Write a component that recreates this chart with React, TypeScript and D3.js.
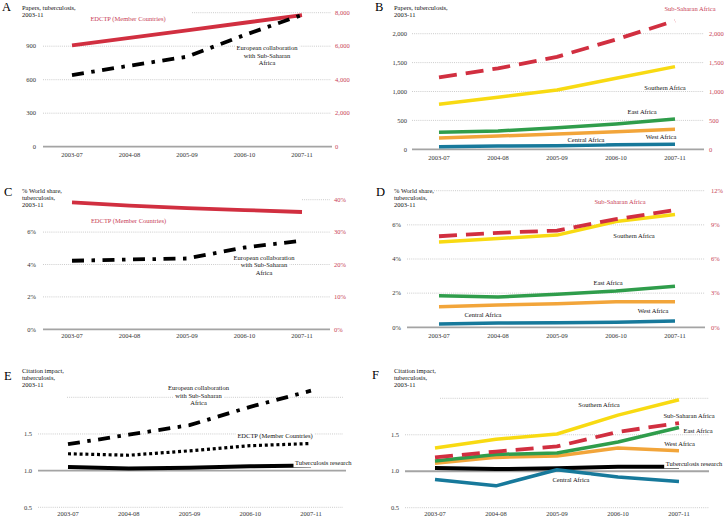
import React, { useEffect, useRef } from 'react';
import * as d3 from 'd3';

// ---------- DATA ----------
const periods = ['2003-07', '2004-08', '2005-09', '2006-10', '2007-11'];

// Panel A: papers
const papersEdctp = [6050, 6500, 6950, 7400, 7850];
const papersEuroSsa = [642, 725, 806, 1000, 1180];
const papersLeftTicks = [0, 300, 600, 900, 1200];
const papersLeftLabels = [0, 300, 600, 900];
const papersRightTicks = [0, 2000, 4000, 6000, 8000];

// Panel B: papers by region
const papersSsa = [1245, 1400, 1600, 1900, 2225];
const papersSouthern = [778, 900, 1025, 1228, 1430];
const papersEast = [294, 317, 374, 438, 524];
const papersWest = [196, 230, 265, 305, 346];
const papersCentral = [45, 55, 62, 78, 86];
const papersRegionTicks = [0, 500, 1000, 1500, 2000];

// Panel C: world share
const shareEdctp = [39.2, 38.2, 37.4, 36.8, 36.2];
const shareEuroSsa = [4.23, 4.31, 4.37, 5.05, 5.47];
const shareLeftTicks = [0, 2, 4, 6, 8];
const shareLeftLabels = [0, 2, 4, 6];
const shareRightTicksC = [0, 10, 20, 30, 40];

// Panel D: world share by region
const shareSsa = [8.0, 8.3, 8.5, 9.5, 10.3];
const shareSouthern = [5.0, 5.2, 5.4, 6.2, 6.6];
const shareEast = [1.85, 1.77, 1.93, 2.12, 2.41];
const shareWest = [1.21, 1.3, 1.38, 1.5, 1.5];
const shareCentral = [0.19, 0.25, 0.27, 0.3, 0.37];
const shareRightTicksD = [0, 3, 6, 9, 12];

// Panel E: citation impact
const citeEuroSsa = [1.36, 1.49, 1.62, 1.87, 2.09];
const citeEdctp = [1.23, 1.21, 1.27, 1.34, 1.37];
const citeTbE = [1.05, 1.03, 1.04, 1.06, 1.07];
const citeTicks = [0.5, 1.0, 1.5, 2.0];
const citeLabels = [0.5, 1.0, 1.5];

// Panel F: citation impact by region
const citeSouthern = [1.32, 1.44, 1.51, 1.77, 1.98];
const citeSsa = [1.19, 1.27, 1.34, 1.54, 1.66];
const citeEast = [1.14, 1.23, 1.25, 1.4, 1.6];
const citeWest = [1.11, 1.19, 1.21, 1.32, 1.28];
const citeCentral = [0.886, 0.8, 1.02, 0.92, 0.86];
const citeTbF = [1.045, 1.03, 1.04, 1.06, 1.06];

// ---------- STYLE ----------
const RED = '#d12f40';
const RED_TEXT = '#c83e56';
const YELLOW = '#f8da12';
const GREEN = '#2f9d4b';
const ORANGE = '#f2a53a';
const BLUE = '#17799b';
const BLACK = '#000000';
const FONT = '"Liberation Serif", "Times New Roman", Times, serif';
const DASHDOT = '12,7.5,3.5,7.5';
const DASHED = '18,9';
const DOTTED = '3,2.8';

interface SeriesDef {
  values: number[];
  color: string;
  width: number;
  dash?: string;
  axis?: 'right';
}
interface LabelDef {
  lines: string[];
  x: number;
  y: number;
  color?: string;
  padBottom?: number;
}
interface PanelDef {
  letter: string;
  letterPos: [number, number];
  title: string[];
  titlePos: [number, number];
  pointRange: [number, number];
  gridRange: [number, number];
  baseRange: [number, number];
  topGridStart: number;
  yRange: [number, number];
  leftDomain: [number, number];
  gridTicks: number[];
  leftLabels: number[];
  leftFmt: (v: number) => string;
  leftLabelX: number;
  rightDomain?: [number, number];
  rightTicks?: number[];
  rightFmt?: (v: number) => string;
  rightLabelX?: number;
  baseValue: number;
  xLabelY: number;
  series: SeriesDef[];
  labels: LabelDef[];
}

const comma = d3.format(',');
const pct = (v: number) => `${v}%`;
const dec1 = d3.format('.1f');

const panels: PanelDef[] = [
  {
    letter: 'A', letterPos: [2, 11], title: ['Papers, tuberculosis,', '2003-11'], titlePos: [22, 10],
    pointRange: [72, 302], gridRange: [43, 331], baseRange: [43, 332], topGridStart: 192,
    yRange: [146.7, 12.7], leftDomain: [0, 1200], gridTicks: papersLeftTicks, leftLabels: papersLeftLabels,
    leftFmt: comma, leftLabelX: 36, rightDomain: [0, 8000], rightTicks: papersRightTicks, rightFmt: comma,
    rightLabelX: 335, baseValue: 0, xLabelY: 157,
    series: [
      { values: papersEdctp, color: RED, width: 3.8, axis: 'right' },
      { values: papersEuroSsa, color: BLACK, width: 3.8, dash: DASHDOT },
    ],
    labels: [
      { lines: ['EDCTP (Member Countries)'], x: 128, y: 20.5, color: RED_TEXT },
      { lines: ['European collaboration', 'with Sub-Saharan', 'Africa'], x: 267, y: 50.3 },
    ],
  },
  {
    letter: 'B', letterPos: [375, 11], title: ['Papers, tuberculosis,', '2003-11'], titlePos: [394, 10],
    pointRange: [439, 675], gridRange: [412, 704], baseRange: [412, 704], topGridStart: 412,
    yRange: [149.3, 33.7], leftDomain: [0, 2000], gridTicks: papersRegionTicks, leftLabels: papersRegionTicks,
    leftFmt: comma, leftLabelX: 407, rightDomain: [0, 2000], rightTicks: papersRegionTicks, rightFmt: comma,
    rightLabelX: 709, baseValue: 0, xLabelY: 159.5,
    series: [
      { values: papersCentral, color: BLUE, width: 3.5 },
      { values: papersWest, color: ORANGE, width: 3.5 },
      { values: papersEast, color: GREEN, width: 3.5 },
      { values: papersSouthern, color: YELLOW, width: 3.5 },
      { values: papersSsa, color: RED, width: 3.8, dash: DASHED, axis: 'right' },
    ],
    labels: [
      { lines: ['Sub-Saharan Africa'], x: 690, y: 10.5, color: RED_TEXT },
      { lines: ['Southern Africa'], x: 665, y: 90 },
      { lines: ['East Africa'], x: 642, y: 114 },
      { lines: ['West Africa'], x: 661, y: 139 },
      { lines: ['Central Africa'], x: 586, y: 142.3 },
    ],
  },
  {
    letter: 'C', letterPos: [4, 196], title: ['% World share,', 'tuberculosis,', '2003-11'], titlePos: [22, 192.7],
    pointRange: [72, 302], gridRange: [43, 330], baseRange: [43, 330], topGridStart: 302,
    yRange: [329.3, 199.7], leftDomain: [0, 8], gridTicks: shareLeftTicks, leftLabels: shareLeftLabels,
    leftFmt: pct, leftLabelX: 36, rightDomain: [0, 40], rightTicks: shareRightTicksC, rightFmt: pct,
    rightLabelX: 334, baseValue: 0, xLabelY: 338,
    series: [
      { values: shareEdctp, color: RED, width: 3.8, axis: 'right' },
      { values: shareEuroSsa, color: BLACK, width: 3.8, dash: DASHDOT },
    ],
    labels: [
      { lines: ['EDCTP (Member Countries)'], x: 128.5, y: 222.7, color: RED_TEXT },
      { lines: ['European collaboration', 'with Sub-Saharan', 'Africa'], x: 264, y: 259.7 },
    ],
  },
  {
    letter: 'D', letterPos: [376, 196], title: ['% World share,', 'tuberculosis,', '2003-11'], titlePos: [394, 192.7],
    pointRange: [439, 675], gridRange: [407, 705], baseRange: [407, 705], topGridStart: 434,
    yRange: [327.3, 190.7], leftDomain: [0, 8], gridTicks: shareLeftTicks, leftLabels: shareLeftLabels,
    leftFmt: pct, leftLabelX: 401, rightDomain: [0, 12], rightTicks: shareRightTicksD, rightFmt: pct,
    rightLabelX: 711, baseValue: 0, xLabelY: 338,
    series: [
      { values: shareCentral, color: BLUE, width: 3.5 },
      { values: shareWest, color: ORANGE, width: 3.5 },
      { values: shareEast, color: GREEN, width: 3.5 },
      { values: shareSouthern, color: YELLOW, width: 3.5 },
      { values: shareSsa, color: RED, width: 3.8, dash: DASHED, axis: 'right' },
    ],
    labels: [
      { lines: ['Sub-Saharan Africa'], x: 620, y: 204, color: RED_TEXT },
      { lines: ['Southern Africa'], x: 634, y: 237.7 },
      { lines: ['East Africa'], x: 608, y: 285 },
      { lines: ['West Africa'], x: 653, y: 312.7 },
      { lines: ['Central Africa'], x: 483, y: 316.7 },
    ],
  },
  {
    letter: 'E', letterPos: [4, 379.5], title: ['Citation impact,', 'tuberculosis,', '2003-11'], titlePos: [22, 372.5],
    pointRange: [68, 311], gridRange: [38, 343], baseRange: [38, 346], topGridStart: 67,
    yRange: [507.3, 397.3], leftDomain: [0.5, 2.0], gridTicks: citeTicks, leftLabels: citeLabels,
    leftFmt: dec1, leftLabelX: 32, baseValue: 1.0, xLabelY: 515.5,
    series: [
      { values: citeTbE, color: BLACK, width: 4 },
      { values: citeEdctp, color: BLACK, width: 3.2, dash: DOTTED },
      { values: citeEuroSsa, color: BLACK, width: 3.8, dash: DASHDOT },
    ],
    labels: [
      { lines: ['European collaboration', 'with Sub-Saharan', 'Africa'], x: 198.5, y: 390.3 },
      { lines: ['EDCTP (Member Countries)'], x: 275, y: 438 },
      { lines: ['Tuberculosis research'], x: 323.3, y: 464.7, padBottom: 1.6 },
    ],
  },
  {
    letter: 'F', letterPos: [372, 379.3], title: ['Citation impact,', 'tuberculosis,', '2003-11'], titlePos: [394, 372.5],
    pointRange: [435, 679], gridRange: [405, 709], baseRange: [405, 709], topGridStart: 440,
    yRange: [507.7, 398.3], leftDomain: [0.5, 2.0], gridTicks: citeTicks, leftLabels: citeLabels,
    leftFmt: dec1, leftLabelX: 399, baseValue: 1.0, xLabelY: 515.5,
    series: [
      { values: citeTbF, color: BLACK, width: 4 },
      { values: citeCentral, color: BLUE, width: 3.5 },
      { values: citeWest, color: ORANGE, width: 3.5 },
      { values: citeEast, color: GREEN, width: 3.5 },
      { values: citeSsa, color: RED, width: 3.8, dash: DASHED },
      { values: citeSouthern, color: YELLOW, width: 3.5 },
    ],
    labels: [
      { lines: ['Southern Africa'], x: 599, y: 406.7 },
      { lines: ['Sub-Saharan Africa'], x: 689, y: 418.3 },
      { lines: ['East Africa'], x: 698, y: 433 },
      { lines: ['West Africa'], x: 679.5, y: 445.7 },
      { lines: ['Tuberculosis research'], x: 694, y: 465.7, padBottom: 1.6 },
      { lines: ['Central Africa'], x: 571, y: 481.7 },
    ],
  },
];

const FS = 6.5;
const LINE_STEP = 7.5;

function drawPanel(svg: d3.Selection<SVGSVGElement, unknown, null, undefined>, p: PanelDef) {
  const g = svg.append('g');
  const x = d3.scalePoint<string>().domain(periods).range(p.pointRange);
  const yL = d3.scaleLinear().domain(p.leftDomain).range(p.yRange);
  const yR = p.rightDomain ? d3.scaleLinear().domain(p.rightDomain).range(p.yRange) : yL;

  // gridlines
  p.gridTicks.forEach((t) => {
    if (t === p.baseValue) return;
    const isTop = t === p.leftDomain[1];
    g.append('line')
      .attr('x1', isTop ? p.topGridStart : p.gridRange[0])
      .attr('x2', p.gridRange[1])
      .attr('y1', yL(t))
      .attr('y2', yL(t))
      .attr('stroke', '#c6c6c6')
      .attr('stroke-width', 0.9)
      .attr('stroke-dasharray', '1,1.1');
  });

  // baseline
  g.append('line')
    .attr('x1', p.baseRange[0])
    .attr('x2', p.baseRange[1])
    .attr('y1', yL(p.baseValue))
    .attr('y2', yL(p.baseValue))
    .attr('stroke', '#a4a4a4')
    .attr('stroke-width', 1.8);

  // left tick labels
  g.selectAll(null)
    .data(p.leftLabels)
    .enter()
    .append('text')
    .attr('x', p.leftLabelX)
    .attr('y', (d) => yL(d) + 2.2)
    .attr('text-anchor', 'end')
    .attr('font-family', FONT)
    .attr('font-size', FS)
    .attr('fill', '#333')
    .text((d) => p.leftFmt(d));

  // right tick labels
  if (p.rightTicks && p.rightFmt && p.rightLabelX !== undefined) {
    g.selectAll(null)
      .data(p.rightTicks)
      .enter()
      .append('text')
      .attr('x', p.rightLabelX)
      .attr('y', (d) => yR(d) + 2.2)
      .attr('text-anchor', 'start')
      .attr('font-family', FONT)
      .attr('font-size', FS)
      .attr('fill', RED_TEXT)
      .text((d) => p.rightFmt!(d));
  }

  // x labels
  g.selectAll(null)
    .data(periods)
    .enter()
    .append('text')
    .attr('x', (d) => x(d)!)
    .attr('y', p.xLabelY)
    .attr('text-anchor', 'middle')
    .attr('font-family', FONT)
    .attr('font-size', FS)
    .attr('fill', '#333')
    .text((d) => d);

  // series
  p.series.forEach((s) => {
    const yy = s.axis === 'right' ? yR : yL;
    const line = d3
      .line<number>()
      .x((_, i) => x(periods[i])!)
      .y((d) => yy(d));
    g.append('path')
      .attr('d', line(s.values))
      .attr('fill', 'none')
      .attr('stroke', s.color)
      .attr('stroke-width', s.width)
      .attr('stroke-linejoin', 'round')
      .attr('stroke-dasharray', s.dash ?? null);
  });

  // labels with white boxes
  p.labels.forEach((lab) => {
    const lg = g.append('g');
    const texts = lab.lines.map((ln, i) =>
      lg
        .append('text')
        .attr('x', lab.x)
        .attr('y', lab.y + i * LINE_STEP)
        .attr('text-anchor', 'middle')
        .attr('font-family', FONT)
        .attr('font-size', FS)
        .attr('fill', lab.color ?? '#111')
        .text(ln)
    );
    texts.forEach((t, i) => {
      const bb = (t.node() as SVGTextElement).getBBox();
      const extra = i === texts.length - 1 ? lab.padBottom ?? 0 : 0;
      lg.insert('rect', 'text')
        .attr('x', bb.x - 1.5)
        .attr('y', bb.y)
        .attr('width', bb.width + 3)
        .attr('height', bb.height + extra)
        .attr('fill', '#fff');
    });
  });

  // panel letter
  g.append('text')
    .attr('x', p.letterPos[0])
    .attr('y', p.letterPos[1])
    .attr('font-family', FONT)
    .attr('font-size', 12.5)
    .attr('fill', '#000')
    .text(p.letter);

  // title
  p.title.forEach((ln, i) => {
    g.append('text')
      .attr('x', p.titlePos[0])
      .attr('y', p.titlePos[1] + i * 7.3)
      .attr('font-family', FONT)
      .attr('font-size', FS)
      .attr('fill', '#111')
      .text(ln);
  });
}

export default function App() {
  const ref = useRef<SVGSVGElement>(null);
  useEffect(() => {
    if (!ref.current) return;
    const svg = d3.select(ref.current);
    svg.selectAll('*').remove();
    panels.forEach((p) => drawPanel(svg, p));
  }, []);
  return (
    <svg
      ref={ref}
      width={724}
      height={518}
      style={{ position: 'absolute', left: 0, top: 0, background: '#fff' }}
    />
  );
}
